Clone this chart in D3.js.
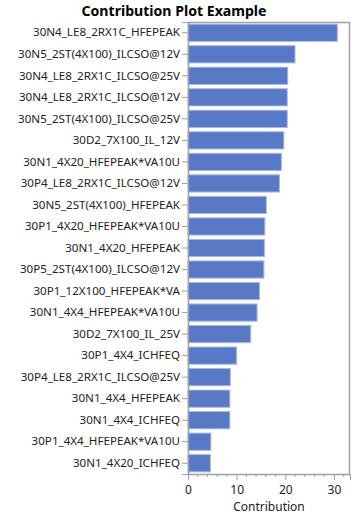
<!DOCTYPE html>
<html><head><meta charset="utf-8">
<script src="https://cdn.jsdelivr.net/npm/d3@7"></script>
<style>body{margin:0;background:#fff}svg{display:block}</style>
</head><body><svg id="c" width="361" height="517"></svg>
<script>
const categories = ["30N4_LE8_2RX1C_HFEPEAK","30N5_2ST(4X100)_ILCSO@12V","30N4_LE8_2RX1C_ILCSO@25V","30N4_LE8_2RX1C_ILCSO@12V","30N5_2ST(4X100)_ILCSO@25V","30D2_7X100_IL_12V","30N1_4X20_HFEPEAK*VA10U","30P4_LE8_2RX1C_ILCSO@12V","30N5_2ST(4X100)_HFEPEAK","30P1_4X20_HFEPEAK*VA10U","30N1_4X20_HFEPEAK","30P5_2ST(4X100)_ILCSO@12V","30P1_12X100_HFEPEAK*VA","30N1_4X4_HFEPEAK*VA10U","30D2_7X100_IL_25V","30P1_4X4_ICHFEQ","30P4_LE8_2RX1C_ILCSO@25V","30N1_4X4_HFEPEAK","30N1_4X4_ICHFEQ","30P1_4X4_HFEPEAK*VA10U","30N1_4X20_ICHFEQ"];
const values = [30.7,22.0,20.5,20.4,20.4,19.7,19.2,18.8,16.1,15.8,15.7,15.6,14.7,14.2,12.9,10.0,8.7,8.6,8.6,4.7,4.6];
const xTicks = [0,10,20,30];
const title = "Contribution Plot Example";
const xTitle = "Contribution";

const svg = d3.select("#c");
const font = "'Segoe UI','Noto Sans','DejaVu Sans',sans-serif";
const L = 188, R = 350, T = 22, B = 474;
const x = d3.scaleLinear().domain([0, 33.3]).range([L, R]);
const y = d3.scaleBand().domain(categories).range([T, B]).paddingInner(0.2).paddingOuter(0.1);

svg.append("text").attr("x", 174).attr("y", 16).attr("text-anchor","middle")
  .attr("font-family", font).attr("font-weight","bold").attr("font-size", 14.1).attr("fill","#000").text(title);

svg.append("g").selectAll("rect").data(values).join("rect")
  .attr("x", x(0)).attr("y", (d,i)=>y(categories[i]))
  .attr("width", d=>x(d)-x(0)).attr("height", y.bandwidth())
  .attr("fill","#5879c6").attr("stroke","#a9b9e6").attr("stroke-width",1);

// frame
svg.append("rect").attr("x", L+0.5).attr("y", T+0.5).attr("width", R-L-1).attr("height", B-T)
  .attr("fill","none").attr("stroke","#a0a0a0").attr("stroke-width",1.5);

// y axis
const ya = svg.append("g").attr("transform",`translate(${L},0)`)
  .call(d3.axisLeft(y).tickSize(6).tickPadding(2));
ya.select(".domain").attr("stroke","#a0a0a0");
ya.selectAll(".tick line").attr("stroke","#a0a0a0");
ya.selectAll("text").attr("font-family", font).attr("font-size", 11.6).attr("fill","#222");

// x axis
const xa = svg.append("g").attr("transform",`translate(0,${B})`)
  .call(d3.axisBottom(x).tickValues(xTicks).tickSize(6).tickPadding(5).tickFormat(d3.format("d")));
xa.select(".domain").attr("stroke","#a0a0a0");
xa.selectAll(".tick line").attr("stroke","#a0a0a0");
xa.selectAll("text").attr("font-family", font).attr("font-size", 12).attr("fill","#222");
const minor = d3.range(0, 33.3, 2).filter(v=>v%10!==0);
svg.append("g").selectAll("line").data(minor).join("line")
  .attr("x1", d=>x(d)).attr("x2", d=>x(d)).attr("y1", B).attr("y2", B+3)
  .attr("stroke","#a0a0a0");

svg.append("text").attr("x", (L+R)/2).attr("y", 511).attr("text-anchor","middle")
  .attr("font-family", font).attr("font-size", 12).attr("fill","#222").text(xTitle);
</script></body></html>
